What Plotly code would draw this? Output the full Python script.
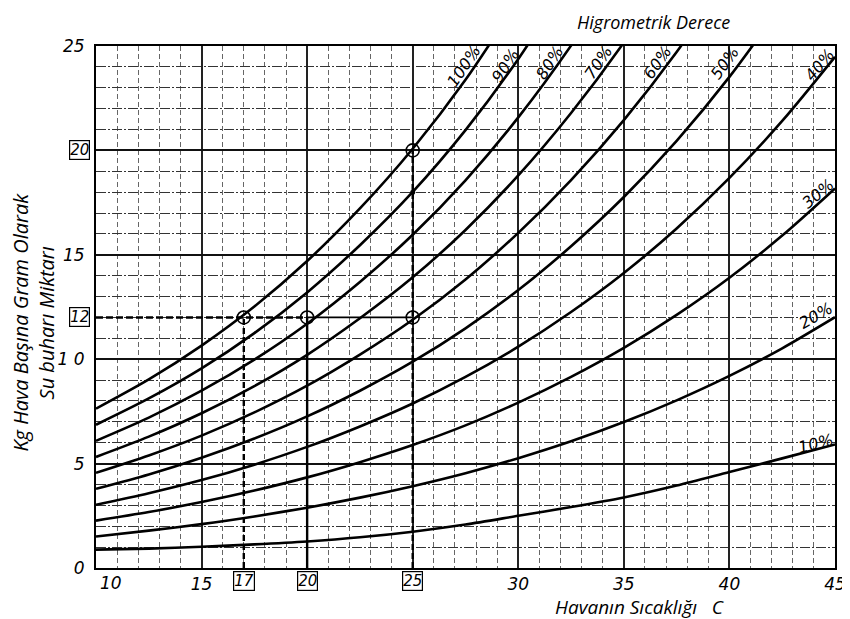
import plotly.graph_objects as go

# ---------------- data ----------------
temps = [10, 12.5, 15, 17.5, 20, 22.5, 25, 27.5, 30, 32.5, 35, 37.5, 40, 42.5, 45]

rh100 = [7.63, 9.03, 10.65, 12.52, 14.70, 17.22, 20.08, 23.38, 27.20]
rh90 = [6.86, 8.12, 9.56, 11.25, 13.20, 15.46, 18.01, 20.97, 24.38, 28.29]
rh80 = [6.09, 7.20, 8.49, 9.98, 11.70, 13.70, 15.96, 18.57, 21.58, 25.02, 28.92]
rh70 = [5.32, 6.29, 7.41, 8.71, 10.21, 11.96, 13.92, 16.19, 18.80, 21.79, 25.17, 29.02]
rh60 = [4.56, 5.39, 6.34, 7.45, 8.73, 10.22, 11.89, 13.82, 16.05, 18.58, 21.45, 24.71, 28.44]
rh50 = [3.79, 4.48, 5.28, 6.20, 7.26, 8.49, 9.88, 11.48, 13.31, 15.41, 17.77, 20.46, 23.52, 26.99]
rh40 = [3.03, 3.58, 4.21, 4.95, 5.80, 6.78, 7.88, 9.15, 10.60, 12.26, 14.13, 16.26, 18.68, 21.41, 24.48]
rh30 = [2.27, 2.68, 3.16, 3.71, 4.34, 5.07, 5.89, 6.83, 7.92, 9.15, 10.54, 12.12, 13.90, 15.92, 18.18]
rh20 = [1.51, 1.79, 2.10, 2.47, 2.89, 3.37, 3.92, 4.54, 5.26, 6.07, 6.99, 8.03, 9.20, 10.52, 12.01]
rh10 = [0.88, 0.93, 1.02, 1.13, 1.27, 1.47, 1.74, 2.08, 2.50, 2.92, 3.38, 3.95, 4.60, 5.25, 5.92]

curves = [rh100, rh90, rh80, rh70, rh60, rh50, rh40, rh30, rh20, rh10]
curve_names = ["100%", "90%", "80%", "70%", "60%", "50%", "40%", "30%", "20%", "10%"]

# label anchor positions (temperature, moisture) and text angle
label_x = [27.45, 29.4, 31.5, 33.8, 36.6, 39.8, 44.3, 44.2, 44.1, 44.1]
label_y = [24.05, 24.05, 24.2, 24.2, 24.2, 24.2, 24.1, 17.95, 12.1, 5.95]
label_angle = [-56, -57, -57, -56, -55, -54, -50, -40, -30, -14]

# worked example values
example_t = [17, 20, 25]
example_moist = 12
sat_point_t = 25
sat_point_moist = 20
mid_point_moist = 18

x_ticks = [10, 15, 20, 25, 30, 35, 40, 45]
x_ticktext = ["", "15", "", "", "30", "35", "40", "45"]
y_ticks = [0, 5, 10, 15, 20, 25]
y_ticktext = ["0", "5", "1 0", "15", "", "25"]
boxed_x = ["17", "20", "25"]
boxed_y = [12, 20]

TICKFONT = dict(family="DejaVu Sans", size=17, color="black", style="italic")

fig = go.Figure()

# construction lines of the worked example
fig.add_trace(go.Scatter(x=[example_t[0], example_t[0]], y=[0, example_moist], mode="lines",
                         line=dict(color="black", width=2.4, dash="6px,3px"), hoverinfo="skip"))
fig.add_trace(go.Scatter(x=[example_t[1], example_t[1]], y=[0, example_moist], mode="lines",
                         line=dict(color="black", width=2.4), hoverinfo="skip"))
fig.add_trace(go.Scatter(x=[example_t[2], example_t[2]], y=[0, sat_point_moist], mode="lines",
                         line=dict(color="black", width=2.4, dash="6px,3px"), hoverinfo="skip"))
fig.add_trace(go.Scatter(x=[10, example_t[1]], y=[example_moist, example_moist], mode="lines",
                         line=dict(color="black", width=2.4, dash="7px,3px"), hoverinfo="skip"))
fig.add_trace(go.Scatter(x=[example_t[1], example_t[2]], y=[example_moist, example_moist], mode="lines",
                         line=dict(color="black", width=1.8), hoverinfo="skip"))

# humidity curves
for vals, name in zip(curves, curve_names):
    fig.add_trace(go.Scatter(x=temps[:len(vals)], y=vals, mode="lines", name=name,
                             line=dict(color="black", width=2.6, shape="spline", smoothing=0.8)))

# example markers
fig.add_trace(go.Scatter(x=example_t + [sat_point_t], y=[example_moist] * 3 + [sat_point_moist],
                         mode="markers",
                         marker=dict(symbol="circle-open", size=13, color="black", line=dict(width=1.6))))
fig.add_trace(go.Scatter(x=[sat_point_t], y=[mid_point_moist], mode="markers",
                         marker=dict(symbol="circle", size=5, color="black")))

# curve labels
for lx, ly, la, name in zip(label_x, label_y, label_angle, curve_names):
    fig.add_annotation(x=lx, y=ly, text=name, showarrow=False, textangle=la,
                       xanchor="center", yanchor="middle",
                       font=dict(family="DejaVu Sans", size=16, color="black", style="italic"))

# boxed tick labels
for t in boxed_x:
    fig.add_annotation(x=float(t), y=0, yref="paper", xanchor="center", yanchor="top", yshift=-3,
                       text=t, showarrow=False, font=dict(TICKFONT, size=15),
                       bordercolor="black", borderwidth=1.2, borderpad=0)
for v in boxed_y:
    fig.add_annotation(x=0, xref="paper", xanchor="right", xshift=-6, y=v, yanchor="middle",
                       text=str(v), showarrow=False, font=dict(TICKFONT, size=15),
                       bordercolor="black", borderwidth=1.2, borderpad=0)
fig.add_annotation(x=10, y=0, yref="paper", xanchor="left", yanchor="top", xshift=2, yshift=-3,
                   text="10", showarrow=False, font=TICKFONT)

# axis titles
fig.add_annotation(x=-0.0846, y=0.471, xref="paper", yref="paper", textangle=-90, showarrow=False,
                   xanchor="center", yanchor="middle",
                   text="Kg Hava Başına Gram Olarak<br>Su buharı Miktarı",
                   font=dict(family="Open Sans", size=20, color="black", style="italic"))
fig.add_annotation(x=0.736, y=-0.0745, xref="paper", yref="paper", showarrow=False,
                   xanchor="center", yanchor="middle",
                   text="Havanın Sıcaklığı   C",
                   font=dict(family="Open Sans", size=19, color="black", style="italic"))
fig.add_annotation(x=0.754, y=1.0728, xref="paper", yref="paper", showarrow=False,
                   xanchor="center", yanchor="top",
                   text="Higrometrik Derece",
                   font=dict(family="Open Sans", size=18, color="black", style="italic"))

fig.update_xaxes(range=[10, 45], tickmode="array", tickvals=x_ticks, ticktext=x_ticktext,
                 showgrid=True, gridcolor="#222", gridwidth=1.6, zeroline=False,
                 showline=True, linecolor="black", linewidth=2, mirror=True, ticks="",
                 ticklabelstandoff=0, tickfont=TICKFONT,
                 minor=dict(tickmode="linear", tick0=0, dtick=1, showgrid=True,
                            gridcolor="#666", gridwidth=1, griddash="5px,3px"))
fig.update_yaxes(range=[0, 25], tickmode="array", tickvals=y_ticks, ticktext=y_ticktext,
                 showgrid=True, gridcolor="#111", gridwidth=2, zeroline=False,
                 showline=True, linecolor="black", linewidth=2, mirror=True, ticks="",
                 ticklabelstandoff=6, tickfont=TICKFONT,
                 minor=dict(tickmode="linear", tick0=0, dtick=1, showgrid=True,
                            gridcolor="#333", gridwidth=1.4, griddash="10px,2px,2px,2px"))

# the page body adds an 8px margin, so the figure is sized to compensate
fig.update_layout(width=842, height=611, showlegend=False,
                  margin=dict(l=88, r=15, t=38, b=51, autoexpand=False),
                  paper_bgcolor="white", plot_bgcolor="white")

fig.write_html("out.html")
